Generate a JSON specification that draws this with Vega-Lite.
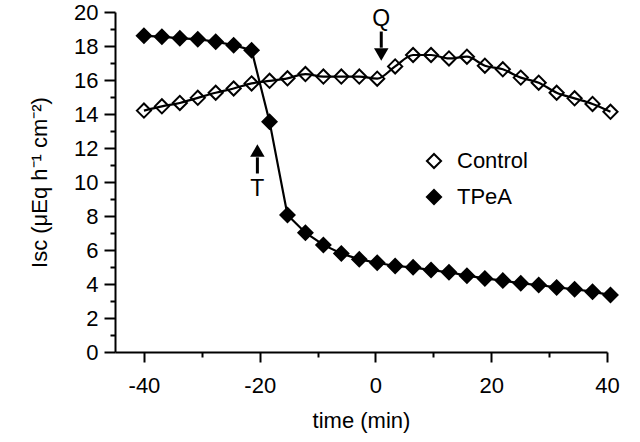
{
  "$schema": "https://vega.github.io/schema/vega-lite/v6.json",
  "width": 492,
  "height": 340,
  "autosize": {"type": "none"},
  "padding": {"left": 115, "top": 12, "right": 33, "bottom": 90},
  "background": "white",
  "config": {
    "view": {"stroke": null},
    "font": "Liberation Sans",
    "axis": {
      "domainColor": "black",
      "domainWidth": 2,
      "tickColor": "black",
      "tickWidth": 2,
      "labelColor": "black",
      "labelFont": "Liberation Sans",
      "labelFontSize": 22,
      "labelOverlap": false,
      "titleFont": "Liberation Sans",
      "titleFontSize": 22,
      "titleFontWeight": "normal",
      "titleColor": "black",
      "grid": false
    }
  },
  "datasets": {
    "series": [
      {"series": "Control", "time": -40.0, "value": 14.2},
      {"series": "Control", "time": -36.9, "value": 14.45},
      {"series": "Control", "time": -33.8, "value": 14.65},
      {"series": "Control", "time": -30.7, "value": 14.95},
      {"series": "Control", "time": -27.6, "value": 15.25},
      {"series": "Control", "time": -24.5, "value": 15.5},
      {"series": "Control", "time": -21.4, "value": 15.8},
      {"series": "Control", "time": -18.3, "value": 15.95},
      {"series": "Control", "time": -15.2, "value": 16.1},
      {"series": "Control", "time": -12.1, "value": 16.35},
      {"series": "Control", "time": -9.0, "value": 16.2},
      {"series": "Control", "time": -5.9, "value": 16.2},
      {"series": "Control", "time": -2.8, "value": 16.2},
      {"series": "Control", "time": 0.3, "value": 16.08},
      {"series": "Control", "time": 3.4, "value": 16.8},
      {"series": "Control", "time": 6.5, "value": 17.47},
      {"series": "Control", "time": 9.6, "value": 17.47},
      {"series": "Control", "time": 12.7, "value": 17.27},
      {"series": "Control", "time": 15.8, "value": 17.37},
      {"series": "Control", "time": 18.9, "value": 16.84},
      {"series": "Control", "time": 22.0, "value": 16.63},
      {"series": "Control", "time": 25.1, "value": 16.14},
      {"series": "Control", "time": 28.2, "value": 15.84},
      {"series": "Control", "time": 31.3, "value": 15.25},
      {"series": "Control", "time": 34.4, "value": 14.92},
      {"series": "Control", "time": 37.5, "value": 14.59},
      {"series": "Control", "time": 40.6, "value": 14.13},
      {"series": "TPeA", "time": -40.0, "value": 18.6},
      {"series": "TPeA", "time": -36.9, "value": 18.55},
      {"series": "TPeA", "time": -33.8, "value": 18.45},
      {"series": "TPeA", "time": -30.7, "value": 18.4},
      {"series": "TPeA", "time": -27.6, "value": 18.25},
      {"series": "TPeA", "time": -24.5, "value": 18.05},
      {"series": "TPeA", "time": -21.4, "value": 17.75},
      {"series": "TPeA", "time": -18.3, "value": 13.55},
      {"series": "TPeA", "time": -15.2, "value": 8.06},
      {"series": "TPeA", "time": -12.1, "value": 7.02},
      {"series": "TPeA", "time": -9.0, "value": 6.3},
      {"series": "TPeA", "time": -5.9, "value": 5.8},
      {"series": "TPeA", "time": -2.8, "value": 5.45},
      {"series": "TPeA", "time": 0.3, "value": 5.25},
      {"series": "TPeA", "time": 3.4, "value": 5.06},
      {"series": "TPeA", "time": 6.5, "value": 4.98},
      {"series": "TPeA", "time": 9.6, "value": 4.82},
      {"series": "TPeA", "time": 12.7, "value": 4.69},
      {"series": "TPeA", "time": 15.8, "value": 4.49},
      {"series": "TPeA", "time": 18.9, "value": 4.33},
      {"series": "TPeA", "time": 22.0, "value": 4.2},
      {"series": "TPeA", "time": 25.1, "value": 4.04},
      {"series": "TPeA", "time": 28.2, "value": 3.94},
      {"series": "TPeA", "time": 31.3, "value": 3.8},
      {"series": "TPeA", "time": 34.4, "value": 3.69},
      {"series": "TPeA", "time": 37.5, "value": 3.55},
      {"series": "TPeA", "time": 40.6, "value": 3.35}
    ],
    "notes": [
      {"label": "Q", "time": 1, "value": 19.6},
      {"label": "T", "time": -20.4, "value": 9.6}
    ],
    "shafts": [
      {"name": "Q", "time": 1, "value": 18.85, "value2": 17.9},
      {"name": "T", "time": -20.4, "value": 10.5, "value2": 11.45}
    ],
    "heads": [
      {"name": "Q", "time": 1, "value": 17.5},
      {"name": "T", "time": -20.4, "value": 11.85}
    ]
  },
  "encoding": {
    "x": {
      "field": "time", "type": "quantitative",
      "scale": {"domain": [-45, 40], "nice": false, "zero": false},
      "axis": {
        "title": "time (min)",
        "values": [-40, -30, -20, -10, 0, 10, 20, 30, 40],
        "labelExpr": "datum.value % 20 === 0 ? '' + datum.value : ''",
        "tickSize": {"condition": {"test": "datum.value % 20 === 0", "value": 10}, "value": 5},
        "labelPadding": 13,
        "labelOverlap": false,
        "labelFlush": false,
        "titlePadding": 14
      }
    },
    "y": {
      "field": "value", "type": "quantitative",
      "scale": {"domain": [0, 20], "nice": false},
      "axis": {
        "title": "Isc (μEq h⁻¹ cm⁻²)",
        "values": [0,1,2,3,4,5,6,7,8,9,10,11,12,13,14,15,16,17,18,19,20],
        "labelExpr": "datum.value % 2 === 0 ? '' + datum.value : ''",
        "tickSize": {"condition": {"test": "datum.value % 2 === 0", "value": 11}, "value": 5},
        "labelPadding": 6,
        "labelOverlap": false,
        "titlePadding": 22
      }
    }
  },
  "layer": [
    {
      "data": {"name": "series"},
      "transform": [{"filter": "datum.series === 'TPeA'"}],
      "mark": {"type": "line", "color": "black", "strokeWidth": 2.2}
    },
    {
      "data": {"name": "series"},
      "mark": {"type": "point", "shape": "diamond", "filled": true, "size": 200, "stroke": "black", "strokeWidth": 2, "opacity": 1},
      "encoding": {
        "fill": {
          "field": "series", "type": "nominal",
          "scale": {"domain": ["Control", "TPeA"], "range": ["white", "black"]},
          "legend": {
            "title": null,
            "orient": "none",
            "legendX": 308,
            "legendY": 138,
            "symbolType": "diamond",
            "symbolSize": 200,
            "symbolStrokeColor": "black",
            "symbolStrokeWidth": 2,
            "symbolOpacity": 1,
            "labelFont": "Liberation Sans",
            "labelFontSize": 22,
            "labelColor": "black",
            "labelOffset": 12,
            "rowPadding": 12
          }
        }
      }
    },
    {
      "data": {"name": "series"},
      "transform": [{"filter": "datum.series === 'Control'"}],
      "mark": {"type": "line", "color": "black", "strokeWidth": 2.2, "interpolate": "monotone"}
    },
    {
      "data": {"name": "shafts"},
      "mark": {"type": "rule", "color": "black", "strokeWidth": 3},
      "encoding": {
        "y2": {"field": "value2"}
      }
    },
    {
      "data": {"name": "heads"},
      "transform": [{"filter": "datum.name === 'Q'"}],
      "mark": {"type": "point", "shape": "triangle-down", "filled": true, "color": "black", "size": 210, "opacity": 1}
    },
    {
      "data": {"name": "heads"},
      "transform": [{"filter": "datum.name === 'T'"}],
      "mark": {"type": "point", "shape": "triangle-up", "filled": true, "color": "black", "size": 210, "opacity": 1}
    },
    {
      "data": {"name": "notes"},
      "mark": {"type": "text", "font": "Liberation Sans", "fontSize": 23, "color": "black", "baseline": "middle", "align": "center"},
      "encoding": {
        "text": {"field": "label"}
      }
    }
  ]
}
